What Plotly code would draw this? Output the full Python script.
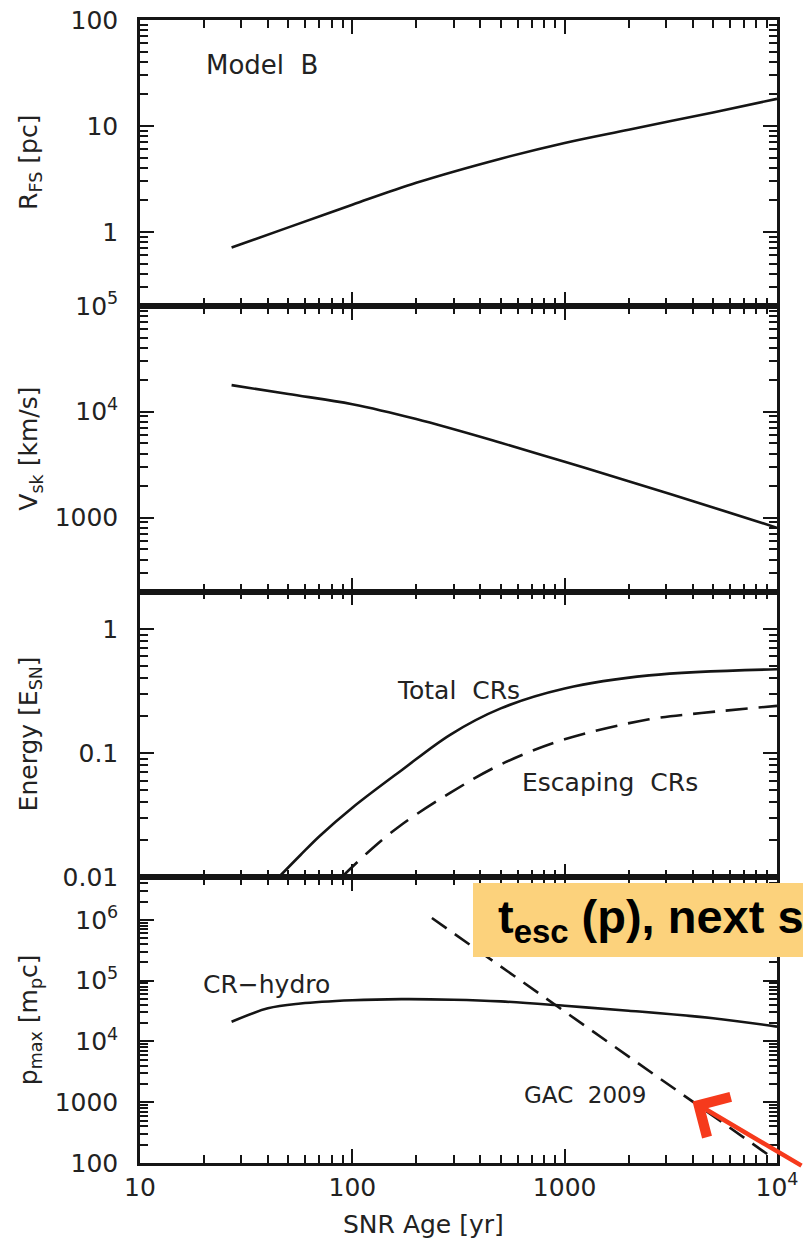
import numpy as np
import plotly.graph_objects as go
from plotly.subplots import make_subplots

# Forward-shock radius [pc] vs SNR age [yr]
age_r = [27, 50, 100, 200, 500, 1000, 2000, 5000, 10000]
r_fs = [0.71, 1.1, 1.8, 2.9, 4.9, 6.9, 9.2, 13.4, 18.0]

# Shock velocity [km/s]
age_v = [27, 50, 100, 200, 500, 1000, 2000, 5000, 10000]
v_sk = [17800, 14650, 11750, 8500, 5080, 3360, 2200, 1245, 800]

# Energy in cosmic rays [E_SN]
age_tot = [45, 57, 70, 100, 170, 290, 500, 1000, 2500, 10000]
e_tot = [0.0100, 0.0151, 0.0214, 0.0363, 0.0724, 0.141, 0.229, 0.331, 0.422, 0.473]
age_esc = [89, 120, 168, 290, 500, 1000, 2500, 4400, 10000]
e_esc = [0.010, 0.0162, 0.026, 0.048, 0.081, 0.129, 0.187, 0.21, 0.24]

# Maximum momentum [m_p c]
age_hydro = [27, 40, 57, 100, 170, 300, 500, 1000, 2000, 5000, 10000]
p_hydro = [21000, 35000, 42000, 47500, 49500, 48500, 45500, 38500, 32000, 24000, 17500]
age_gac = [237, 9000]
p_gac = [1.07e6, 140]

# Tick labels
x_ticks = [10, 100, 1000, 10000]
x_ticktext = ["10", "100", "1000", "10<sup>4</sup>"]
r_ticks = [1, 10, 100]
r_ticktext = ["1", "10", "100"]
v_ticks = [1000, 1e4, 1e5]
v_ticktext = ["1000", "10<sup>4</sup>", "10<sup>5</sup>"]
e_ticks = [0.01, 0.1, 1]
e_ticktext = ["0.01", "0.1", "1"]
p_ticks = [100, 1000, 1e4, 1e5, 1e6]
p_ticktext = ["100", "1000", "10<sup>4</sup>", "10<sup>5</sup>", "10<sup>6</sup>"]


def minor_vals(k0, k1):
    return [m * 10.0 ** k for k in range(k0, k1 + 1) for m in range(2, 10)]


INK = "#151515"
FONT = "DejaVu Sans"
tick_font = dict(family=FONT, size=25, color="#222")

fig = make_subplots(rows=4, cols=1, shared_xaxes=False, vertical_spacing=0)

line = dict(color=INK, width=2.6)
fig.add_trace(go.Scatter(x=age_r, y=r_fs, mode="lines", line=dict(line, shape="spline")), row=1, col=1)
fig.add_trace(go.Scatter(x=age_v, y=v_sk, mode="lines", line=dict(line, shape="spline")), row=2, col=1)
fig.add_trace(go.Scatter(x=age_tot, y=e_tot, mode="lines", line=dict(line, shape="spline")), row=3, col=1)
fig.add_trace(go.Scatter(x=age_esc, y=e_esc, mode="lines",
                         line=dict(line, shape="spline", dash="22px,11px")), row=3, col=1)
fig.add_trace(go.Scatter(x=age_hydro, y=p_hydro, mode="lines", line=dict(line, shape="spline")), row=4, col=1)
fig.add_trace(go.Scatter(x=age_gac, y=p_gac, mode="lines",
                         line=dict(line, dash="18px,10px")), row=4, col=1)

common = dict(type="log", showline=True, linewidth=2.5, linecolor=INK, mirror="ticks",
              ticks="inside", ticklen=14, tickwidth=2.2, tickcolor=INK, automargin=False,
              showgrid=False, zeroline=False, tickfont=tick_font)

y_specs = [
    (r_ticks, r_ticktext, [np.log10(0.2), 2], minor_vals(-1, 1)),
    (v_ticks, v_ticktext, [np.log10(200), 5], minor_vals(2, 4)),
    (e_ticks, e_ticktext, [-2, np.log10(2)], minor_vals(-2, 0)),
    (p_ticks, p_ticktext, [2, 6.7], minor_vals(2, 6)),
]

# Overlay axes that carry the short intermediate ticks (2..9 in each decade)
overlay = dict(type="log", tickmode="array", ticks="inside", ticklen=8, tickwidth=2,
               tickcolor=INK, showticklabels=False, showline=True, linewidth=2.5,
               linecolor=INK, mirror="ticks", showgrid=False, zeroline=False,
               automargin=False)

for r in range(1, 5):
    tv, tt, rng, mv = y_specs[r - 1]
    fig.update_xaxes(common, range=[1, 4], tickvals=x_ticks, ticktext=x_ticktext,
                     showticklabels=(r == 4), row=r, col=1)
    fig.update_yaxes(common, range=rng, tickvals=tv, ticktext=tt, ticklabelstandoff=14,
                     row=r, col=1)
    xs = "x" if r == 1 else f"x{r}"
    ys = "y" if r == 1 else f"y{r}"
    fig.layout[f"xaxis{10 + r}"] = dict(overlay, overlaying=xs, anchor=ys,
                                        range=[1, 4], tickvals=minor_vals(1, 3))
    fig.layout[f"yaxis{10 + r}"] = dict(overlay, overlaying=ys, anchor=xs,
                                        range=rng, tickvals=mv)
    fig.add_trace(go.Scatter(x=[], y=[], xaxis=f"x{10 + r}", yaxis=ys, hoverinfo="skip"))
    fig.add_trace(go.Scatter(x=[], y=[], xaxis=xs, yaxis=f"y{10 + r}", hoverinfo="skip"))

# Axis titles
y_titles = ["R<sub>FS</sub> [pc]", "V<sub>sk</sub> [km/s]",
            "Energy [E<sub>SN</sub>]", "p<sub>max</sub> [m<sub>p</sub>c]"]
ydom = ["y domain", "y2 domain", "y3 domain", "y4 domain"]
for t, yref in zip(y_titles, ydom):
    fig.add_annotation(text=t, xref="paper", x=0, xshift=-110, yref=yref, y=0.5,
                       textangle=-90, showarrow=False, xanchor="center", yanchor="middle",
                       font=dict(family=FONT, size=25, color="#222"))

fig.add_annotation(text="SNR Age [yr]", xref="paper", x=(423 - 140) / 637, yref="paper", y=0,
                   yshift=-61, showarrow=False, xanchor="center", yanchor="middle",
                   font=dict(family=FONT, size=25, color="#222"))

# In-panel labels
lab = dict(family=FONT, size=25, color="#222")
fig.add_annotation(text="Model  B", xref="x domain", yref="y domain", x=0.1, y=0.843,
                   xanchor="left", yanchor="middle", showarrow=False,
                   font=dict(family=FONT, size=26, color="#222"))
fig.add_annotation(text="Total  CRs", xref="x3 domain", yref="y3 domain", x=0.4, y=0.655,
                   xanchor="left", yanchor="middle", showarrow=False, font=lab)
fig.add_annotation(text="Escaping  CRs", xref="x3 domain", yref="y3 domain", x=0.597, y=0.33,
                   xanchor="left", yanchor="middle", showarrow=False, font=lab)
fig.add_annotation(text="CR−hydro", xref="x4 domain", yref="y4 domain", x=0.096, y=0.625,
                   xanchor="left", yanchor="middle", showarrow=False, font=lab)
fig.add_annotation(text="GAC  2009", xref="x4 domain", yref="y4 domain", x=0.6, y=0.238,
                   xanchor="left", yanchor="middle", showarrow=False,
                   font=dict(family=FONT, size=23, color="#222"))

# Highlight banner
fig.add_shape(type="rect", xref="paper", yref="paper",
              x0=(473 - 140) / 637, x1=1.2, y0=(1163 - 957) / 1143, y1=(1163 - 883) / 1143,
              fillcolor="#FCD27C", line=dict(width=0), layer="above")
fig.add_annotation(text="<b>t<sub>esc</sub> (p), next s</b>", xref="paper", yref="paper",
                   x=(496 - 140) / 637, y=(1163 - 920) / 1143, xanchor="left", yanchor="middle",
                   showarrow=False, font=dict(family="Liberation Sans", size=47, color="black"))

# Arrow pointing at the GAC 2009 line
t_tip = 4000
p_tip = 10 ** np.interp(np.log10(t_tip), np.log10(age_gac), np.log10(p_gac))
fig.add_annotation(x=np.log10(t_tip), y=np.log10(p_tip), xref="x4", yref="y4",
                   ax=150, ay=65, showarrow=True, arrowhead=4, arrowsize=2.0,
                   arrowwidth=4.5, arrowcolor="#F63A1C", text="")

fig.update_layout(width=803, height=1247, margin=dict(l=140, r=26, t=20, b=84),
                  plot_bgcolor="white", paper_bgcolor="white", showlegend=False)

fig.write_html("out.html")
